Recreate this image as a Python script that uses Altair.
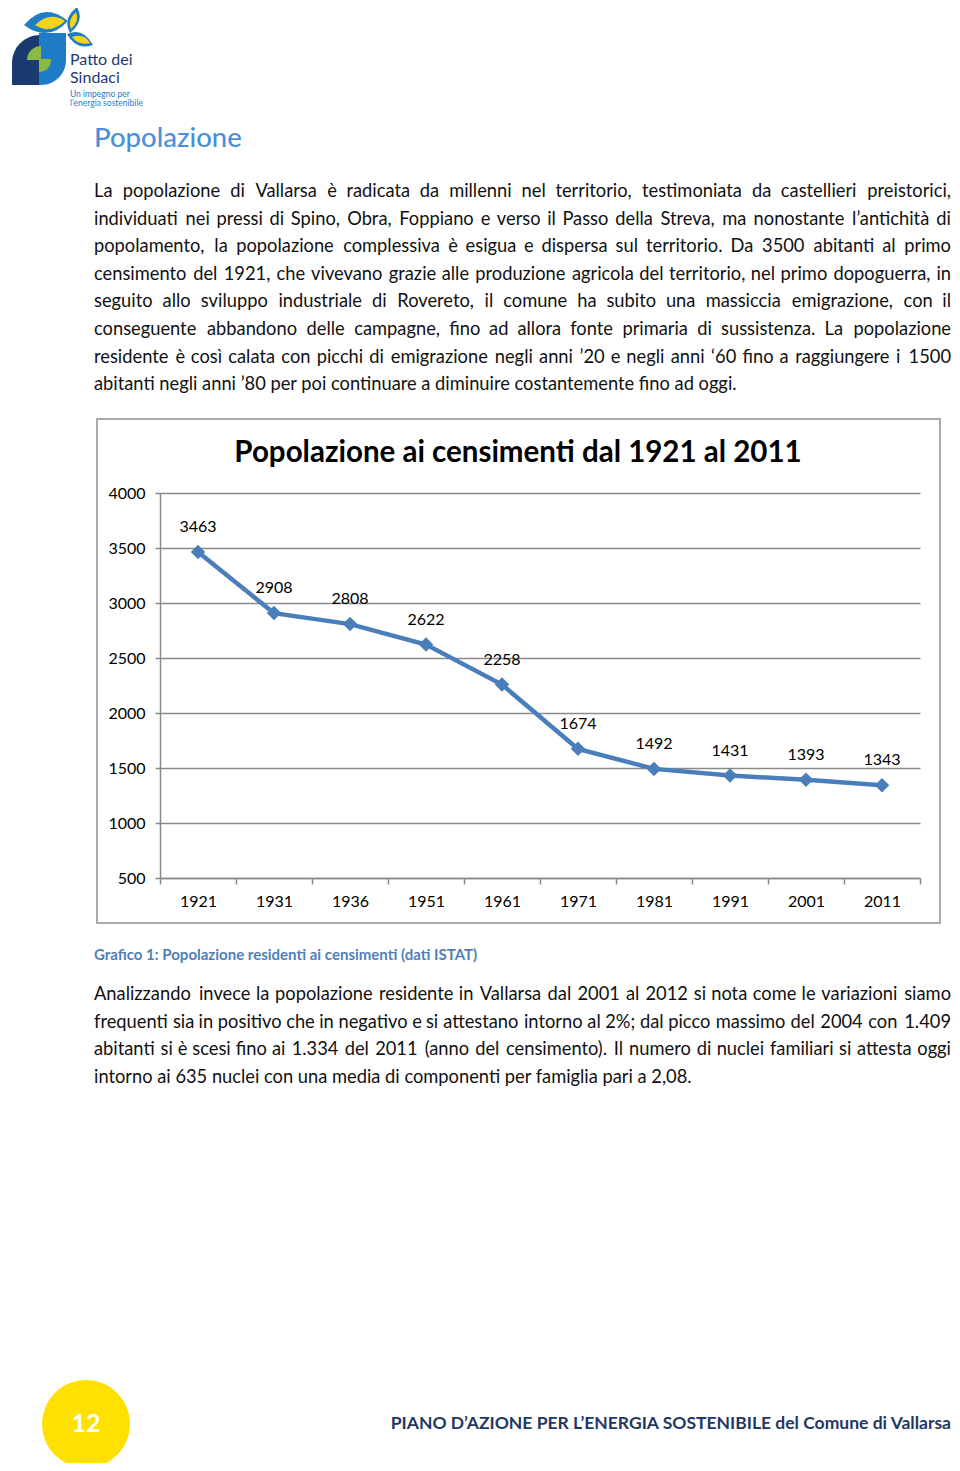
import altair as alt
import pandas as pd

# ---------------- data ----------------
years = ["1921", "1931", "1936", "1951", "1961", "1971", "1981", "1991", "2001", "2011"]
population = [3463, 2908, 2808, 2622, 2258, 1674, 1492, 1431, 1393, 1343]
y_ticks = [500, 1000, 1500, 2000, 2500, 3000, 3500, 4000]

chart_title = "Popolazione ai censimenti dal 1921 al 2011"
heading = "Popolazione"
caption = "Grafico 1: Popolazione residenti ai censimenti (dati ISTAT)"
footer = "PIANO D\u2019AZIONE PER L\u2019ENERGIA SOSTENIBILE del Comune di Vallarsa"
page_no = "12"

para1 = [
    "La popolazione di Vallarsa è radicata da millenni nel territorio, testimoniata da castellieri preistorici,",
    "individuati nei pressi di Spino, Obra, Foppiano e verso il Passo della Streva, ma nonostante l\u2019antichità di",
    "popolamento, la popolazione complessiva è esigua e dispersa sul territorio. Da 3500 abitanti al primo",
    "censimento del 1921, che vivevano grazie alle produzione agricola del territorio, nel primo dopoguerra, in",
    "seguito allo sviluppo industriale di Rovereto, il comune ha subito una massiccia emigrazione, con il",
    "conseguente abbandono delle campagne, fino ad allora fonte primaria di sussistenza. La popolazione",
    "residente è così calata con picchi di emigrazione negli anni \u201920 e negli anni \u201860 fino a raggiungere i 1500",
    "abitanti negli anni \u201980 per poi continuare a diminuire costantemente fino ad oggi.",
]
para2 = [
    "Analizzando invece la popolazione residente in Vallarsa dal 2001 al 2012 si nota come le variazioni siamo",
    "frequenti sia in positivo che in negativo e si attestano intorno al 2%; dal picco massimo del 2004 con 1.409",
    "abitanti si è scesi fino ai 1.334 del 2011 (anno del censimento). Il numero di nuclei familiari si attesta oggi",
    "intorno ai 635 nuclei con una media di componenti per famiglia pari a 2,08.",
]

FONT = "Lato"
BODY_SIZE = 18.3
M = 8  # page margin; plot coords = page coords - M
TEXT_L, TEXT_R = 94, 951
one = pd.DataFrame({"d": [0]})

# rough advance widths (em) of the text font, used only to spread words for justification
EM = {" ": .19, ",": .22, ".": .22, ";": .22, ":": .22, "\u2019": .2, "\u2018": .2, "%": .78,
      "(": .30, ")": .30, "a": .48, "b": .54, "c": .45, "d": .54, "e": .50, "f": .31, "g": .49,
      "h": .54, "i": .23, "j": .23, "k": .50, "l": .23, "m": .81, "n": .54, "o": .54, "p": .54,
      "q": .54, "r": .35, "s": .41, "t": .34, "u": .54, "v": .50, "w": .76, "x": .48, "y": .50,
      "z": .45, "è": .50, "à": .48, "ì": .23, "A": .66, "C": .66, "D": .72, "F": .53, "I": .28,
      "L": .49, "O": .77, "P": .58, "R": .60, "S": .52, "V": .66}
CAL = 1.06


def est_width(w, size):
    return sum(EM.get(ch, .58 if ch.isdigit() else .55) for ch in w) * size * CAL


def txt(s, px, py, size, color="#111111", weight="normal", align="left", font=FONT):
    return alt.Chart(one).mark_text(
        text=s, x=px - M, y=py - M, fontSize=size, color=color, fontWeight=weight,
        align=align, baseline="middle", font=font,
    )


def justified(line, py, size=BODY_SIZE):
    words = line.split(" ")
    widths = [est_width(w, size) for w in words]
    n = len(words)
    gap = (TEXT_R - TEXT_L - sum(widths)) / (n - 1)
    gap = max(gap, EM[" "] * size)
    out = []
    x = TEXT_L
    for i, (w, ww) in enumerate(zip(words, widths)):
        if i == 0:
            out.append(txt(w, TEXT_L, py, size))
        elif i == n - 1:
            out.append(txt(w, TEXT_R, py, size, align="right"))
        else:
            out.append(txt(w, x + ww / 2, py, size, align="center"))
        x += ww + gap
    return out


def shape(path, color):
    return alt.Chart(one).mark_point(
        shape=path, size=4, filled=True, fill=color, color=color, opacity=1,
        strokeWidth=0, x=-M, y=-M,
    )


layers = []

# ---------------- logo ----------------
NAVY, BLUE, GREEN, YELLOW = "#1b3a70", "#1f7cc6", "#8db843", "#f6d21a"
layers += [
    shape("M40,35 A28,28 0 0 0 12,63 L12,85 L39,85 Z", NAVY),
    shape("M39,33 L66,33 L66,60 A25,25 0 0 1 41,85 L39,85 Z", BLUE),
    shape("M41,46 A14,14 0 0 0 27,60 L41,60 Z", GREEN),
    shape("M39,59 L51,59 A12,12 0 0 1 39,72 Z", GREEN),
    shape("M24,25 Q44,1 68,21 Q48,43 24,25 Z", BLUE),
    shape("M35,25 Q50,11 65,21 Q50,35 35,25 Z", YELLOW),
    shape("M77,7 Q62,19 70,33 Q85,21 77,7 Z", BLUE),
    shape("M76,12 Q67,20 71,29 Q80,21 76,12 Z", YELLOW),
    shape("M67,34 Q83,27 93,45 Q76,51 67,34 Z", BLUE),
    shape("M72,37 Q84,33 90,43 Q79,46 72,37 Z", YELLOW),
]
layers += [
    txt("Patto dei", 70, 60, 16, NAVY),
    txt("Sindaci", 70, 78, 16, NAVY),
    txt("Un impegno per", 70, 94, 8.5, BLUE),
    txt("l\u2019energia sostenibile", 70, 103, 8.5, BLUE),
]

# ---------------- heading and text ----------------
layers.append(txt(heading, 94, 139, 27.5, "#4a8fdc", weight=500))
for i, line in enumerate(para1):
    py = 192 + i * 27.6
    if i < len(para1) - 1:
        layers += justified(line, py)
    else:
        layers.append(txt(line, TEXT_L, py, BODY_SIZE))
for i, line in enumerate(para2):
    py = 995 + i * 27.5
    if i < len(para2) - 1:
        layers += justified(line, py)
    else:
        layers.append(txt(line, TEXT_L, py, BODY_SIZE))
layers.append(txt(caption, 94, 955, 15, "#4f7fba", weight="bold"))

# ---------------- chart frame & title ----------------
layers.append(
    alt.Chart(one).mark_rect(fill="transparent", stroke="#8f8f8f", strokeWidth=1.5).encode(
        x=alt.value(97 - M), x2=alt.value(940 - M), y=alt.value(419 - M), y2=alt.value(923 - M)
    )
)
layers.append(txt(chart_title, 518, 453, 29.5, "#000000", weight="bold", align="center"))

# ---------------- data chart ----------------
df = pd.DataFrame({"year": years, "pop": population})
xscale = alt.Scale(type="band", domain=years, range=[160 - M, 920 - M], paddingInner=0, paddingOuter=0)
yscale = alt.Scale(domain=[500, 4000], range=[878 - M, 493 - M], nice=False, zero=False)
H = 1471 - 2 * M
W = 960 - 2 * M

xaxis = alt.Axis(
    title=None, orient="bottom", offset=(878 - M) - H, tickBand="extent", labelAngle=0,
    labelFont=FONT, labelFontSize=16, labelColor="#000000", domainColor="#8a8a8a", domainWidth=1.5,
    tickColor="#8a8a8a", tickWidth=1.5, tickSize=6, labelPadding=9, grid=False,
)
yaxis = alt.Axis(
    title=None, orient="left", offset=-(160 - M), values=y_ticks, format="d", grid=True,
    gridColor="#8a8a8a", gridWidth=1.5, domainColor="#8a8a8a", domainWidth=1.5, tickColor="#8a8a8a",
    tickWidth=1.5, tickSize=5, labelPadding=10, labelFont=FONT, labelFontSize=16, labelColor="#000000",
)

base = alt.Chart(df).encode(
    x=alt.X("year:O", scale=xscale, axis=xaxis, sort=years),
    y=alt.Y("pop:Q", scale=yscale, axis=yaxis),
)
LINE = "#4a7ebb"
layers.append(base.mark_line(color=LINE, strokeWidth=4.5))
layers.append(base.mark_point(shape="diamond", filled=True, size=210, color=LINE, opacity=1))
layers.append(base.mark_text(dy=-25, fontSize=16, font=FONT, color="#000000").encode(text="pop:Q"))

# ---------------- footer ----------------
layers.append(
    alt.Chart(one).mark_point(shape="circle", size=88 * 88, filled=True, color="#ffe100", opacity=1,
                              x=86 - M, y=1424 - M)
)
layers.append(txt(page_no, 86, 1424, 25, "#ffffff", weight="bold", align="center"))
layers.append(txt(footer, 951, 1424, 17.5, "#1f3864", weight="bold", align="right"))

chart = alt.layer(*layers).properties(
    width=W, height=H, padding=0, autosize=alt.AutoSizeParams(type="none"), background="white"
).configure_view(strokeWidth=0)

chart.save("out.html", embed_options={"renderer": "svg", "actions": False})
